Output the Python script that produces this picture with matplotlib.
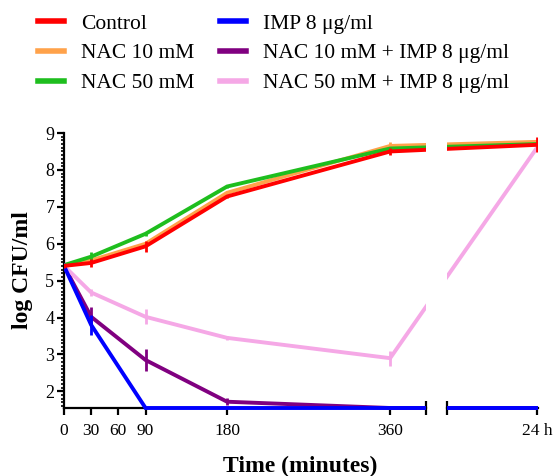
import matplotlib
matplotlib.use("Agg")
import matplotlib.pyplot as plt
import numpy as np
from matplotlib.ticker import MultipleLocator
from matplotlib.patches import Rectangle

plt.rcParams['font.family'] = ['Liberation Serif', 'DejaVu Serif']

# time points (minutes); the last one is 24 h, drawn after the axis break
time_labels = ['0', '30', '60', '90', '180', '360', '24 h']
tick_minutes = [0, 30, 60, 90, 180, 360]
times = [0, 30, 90, 180, 360]
x_24h = 522          # position of the 24 h point on the broken axis
break_lo, break_hi = 400, 422.6

names = ['Control', 'NAC 10 mM', 'NAC 50 mM',
         'IMP 8 \u03bcg/ml', 'NAC 10 mM + IMP 8 \u03bcg/ml', 'NAC 50 mM + IMP 8 \u03bcg/ml']
colors = ['#ff0000', '#ffa24a', '#1ebe1e', '#0000ff', '#800080', '#f5a8e6']

control = [5.40, 5.48, 5.93, 7.28, 8.50, 8.68]
nac10 = [5.40, 5.55, 6.00, 7.38, 8.65, 8.76]
nac50 = [5.42, 5.65, 6.27, 7.55, 8.58, 8.70]
imp = [5.40, 3.80, 1.55, 1.55, 1.55, 1.55]
nac10_imp = [5.40, 4.02, 2.85, 1.72, 1.55, 1.55]
nac50_imp = [5.40, 4.68, 4.02, 3.45, 2.90, 8.60]

control_err = [0.05, 0.12, 0.15, 0.05, 0.10, 0.20]
nac10_err = [0.03, 0.08, 0.05, 0.05, 0.10, 0.05]
nac50_err = [0.03, 0.12, 0.05, 0.05, 0.05, 0.05]
imp_err = [0.0, 0.28, 0.0, 0.0, 0.0, 0.0]
nac10_imp_err = [0.0, 0.27, 0.30, 0.10, 0.0, 0.0]
nac50_imp_err = [0.0, 0.10, 0.20, 0.05, 0.20, 0.10]

# drawing order: purple under blue, red on top
series = [nac10, nac50, nac10_imp, nac50_imp, imp, control]
errs = [nac10_err, nac50_err, nac10_imp_err, nac50_imp_err, imp_err, control_err]
order = [1, 2, 4, 5, 3, 0]

fig = plt.figure(figsize=(5.58, 4.76), dpi=100)
px = 0.906 / 558  # figure fraction per minute
left = 64 / 558
bottom = 1 - 408 / 476
top = 1 - 133 / 476
ax1 = fig.add_axes([left, bottom, break_lo * px, top - bottom])
ax2 = fig.add_axes([left + break_hi * px, bottom, (523 - break_hi) * px, top - bottom])

xs = times + [x_24h]
handles = {}
for vals, err, i in zip(series, errs, order):
    for ax in (ax1, ax2):
        clip = Rectangle((0, -0.03), 1, 1.06, transform=ax.transAxes, fc='none', ec='none')
        ln, = ax.plot(xs, vals, color=colors[i], lw=2.8, solid_joinstyle='miter', zorder=3)
        ln.set_clip_path(clip)
        ax.errorbar(xs, vals, yerr=err, fmt='none', ecolor=colors[i], elinewidth=2, capsize=0, zorder=3)
    handles[i] = ln

for ax in (ax1, ax2):
    ax.set_ylim(1.55, 9)
    ax.spines['top'].set_visible(False)
    ax.spines['right'].set_visible(False)
    ax.spines['bottom'].set_linewidth(1.6)
    ax.spines['left'].set_linewidth(1.6)

ax1.set_xlim(0, break_lo)
ax2.set_xlim(break_hi, 523)

ax1.set_xticks(tick_minutes)
ax1.set_xticklabels(time_labels[:-1])
ax1.set_xticks([break_lo], minor=True)
ax2.set_xticks([x_24h])
ax2.set_xticklabels([time_labels[-1]])
ax2.set_xticks([break_hi], minor=True)
for ax in (ax1, ax2):
    ax.tick_params(axis='x', which='major', direction='out', length=5, width=1.6, labelsize=12.5, pad=6)
    ax.tick_params(axis='x', which='minor', direction='inout', length=10, width=1.6)

ax1.yaxis.set_major_locator(MultipleLocator(1))
ax1.yaxis.set_minor_locator(MultipleLocator(0.1))
ax1.tick_params(axis='y', which='major', direction='out', length=5, width=1.6, labelsize=13, pad=2)
ax1.tick_params(axis='y', which='minor', direction='out', length=2.5, width=1.2)
ax2.spines['left'].set_visible(False)
ax2.tick_params(axis='y', which='both', left=False, labelleft=False)

ax1.set_ylabel('log CFU/ml', fontsize=17, fontweight='bold', labelpad=9)
fig.text((64 + 522 * 0.906 / 2) / 558, 1 - 466 / 476, 'Time (minutes)', fontsize=17,
         fontweight='bold', ha='center', va='center')

leg = fig.legend([handles[i] for i in range(6)], names, ncol=2, loc='upper left',
                 bbox_to_anchor=(0.041, 1.003), frameon=False, fontsize=15.5,
                 handlelength=1.2, handletextpad=0.8, columnspacing=1.2, labelspacing=0.45,
                 borderpad=0.2)
for line in leg.get_lines():
    line.set_linewidth(4)

fig.savefig('out.png', dpi=100)
